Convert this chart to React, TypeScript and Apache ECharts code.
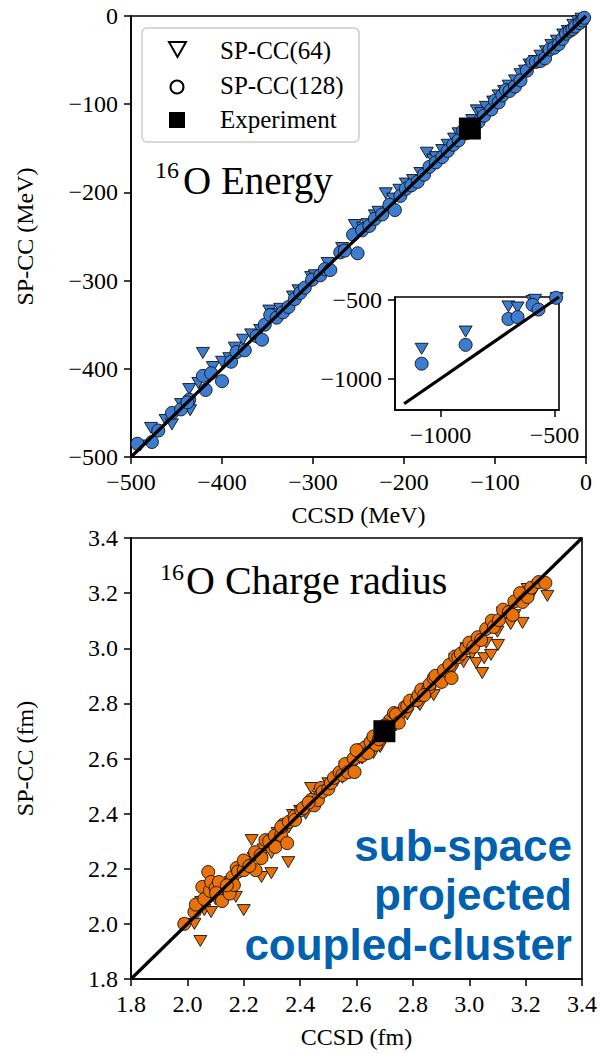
import React, { useEffect, useRef } from "react";
import * as echarts from "echarts";

// ---------- Data: 16O energy (MeV) ----------
const energyTicks = [-500, -400, -300, -200, -100, 0];
const energySP64: number[][] = [
  [-490, -487], [-478, -467], [-462, -458], [-455, -463], [-445, -440], [-436, -423], [-435, -447],
  [-426, -416], [-421, -382], [-410, -398], [-400, -392], [-392, -388], [-386, -376], [-377, -367],
  [-368, -361], [-358, -356], [-348, -334], [-342, -338], [-336, -332], [-322, -318], [-316, -311],
  [-302, -296], [-298, -294], [-284, -280], [-268, -263], [-254, -237], [-245, -240], [-240, -236],
  [-232, -226], [-228, -222], [-220, -201], [-212, -207], [-205, -197], [-198, -190], [-190, -186],
  [-182, -178], [-175, -155], [-168, -163], [-165, -160], [-158, -152], [-152, -146], [-145, -139],
  [-140, -133], [-132, -126], [-125, -118], [-120, -107], [-115, -110], [-110, -103], [-102, -97],
  [-96, -90], [-90, -85], [-85, -79], [-78, -73], [-72, -66], [-67, -62], [-62, -55], [-56, -51],
  [-50, -45], [-44, -40], [-38, -33], [-32, -28], [-25, -21], [-20, -17], [-14, -10], [-9, -6], [-5, -3],
];
const energySP128: number[][] = [
  [-493, -485], [-477, -483], [-470, -470], [-455, -450], [-445, -446], [-436, -435], [-438, -438],
  [-421, -408], [-418, -424], [-412, -405], [-400, -414], [-390, -392], [-384, -381], [-375, -379],
  [-362, -363], [-356, -367], [-353, -350], [-347, -339], [-340, -342], [-333, -336], [-327, -330],
  [-320, -321], [-314, -314], [-309, -308], [-301, -299], [-292, -294], [-287, -287], [-281, -288],
  [-270, -268], [-265, -266], [-251, -269], [-256, -248], [-246, -243], [-238, -238], [-232, -230],
  [-224, -225], [-216, -214], [-210, -220], [-204, -204], [-198, -196], [-192, -192], [-185, -188],
  [-178, -180], [-172, -171], [-165, -166], [-158, -160], [-152, -153], [-146, -146], [-140, -141],
  [-135, -130], [-132, -133], [-128, -125], [-123, -124], [-118, -120], [-112, -113], [-104, -106],
  [-100, -96], [-96, -98], [-92, -90], [-88, -84], [-84, -85], [-78, -80], [-72, -73], [-65, -62],
  [-59, -52], [-55, -52], [-50, -51], [-45, -48], [-40, -38], [-35, -36], [-30, -32], [-26, -26],
  [-22, -20], [-18, -17], [-15, -15], [-12, -12], [-7, -8], [-4, -5], [-2, -2],
];
const energyExperiment: number[][] = [[-127.6, -127.6]];
const energyDiagonal: number[][] = [[-500, -500], [0, 0]];

// inset (large-basis outliers)
const insetTicks = [-1000, -500];
const insetSP64: number[][] = [[-1083, -810], [-890, -700], [-702, -540], [-662, -547], [-596, -505], [-585, -498]];
const insetSP128: number[][] = [[-1083, -905], [-890, -785], [-702, -620], [-662, -608], [-596, -530], [-570, -560]];
const insetDiagonal: number[][] = [[-1160, -1160], [-480, -480]];

// ---------- Data: 16O charge radius (fm) ----------
const radiusTicks = [1.8, 2.0, 2.2, 2.4, 2.6, 2.8, 3.0, 3.2, 3.4];
const radiusSP64: number[][] = [
  [2.025, 2.0], [2.046, 1.938], [1.995, 1.998], [2.049, 2.079], [2.06, 2.05], [2.084, 2.043],
  [2.1, 2.09], [2.14, 2.13], [2.172, 2.098], [2.18, 2.19], [2.2, 2.05], [2.154, 2.152],
  [2.235, 2.239], [2.228, 2.304], [2.263, 2.17], [2.27, 2.27], [2.298, 2.184], [2.298, 2.257],
  [2.3, 2.28], [2.33, 2.31], [2.358, 2.224], [2.36, 2.35], [2.375, 2.395], [2.42, 2.4],
  [2.439, 2.493], [2.46, 2.45], [2.47, 2.46], [2.5, 2.51], [2.53, 2.52], [2.55, 2.53], [2.56, 2.57],
  [2.61, 2.6], [2.62, 2.6], [2.64, 2.63], [2.66, 2.62], [2.68, 2.66], [2.684, 2.642], [2.7, 2.69],
  [2.72, 2.73], [2.74, 2.72], [2.76, 2.75], [2.78, 2.76], [2.82, 2.8], [2.825, 2.794], [2.86, 2.84],
  [2.874, 2.83], [2.9, 2.88], [2.92, 2.91], [2.94, 2.92], [2.95, 2.96], [2.98, 2.95], [3.01, 2.98],
  [3.025, 2.946], [3.046, 2.91], [3.053, 2.964], [3.06, 3.02], [3.077, 2.976], [3.1, 3.06],
  [3.102, 3.012], [3.14, 3.1], [3.147, 3.088], [3.16, 3.12], [3.189, 3.092], [3.2, 3.17],
  [3.207, 3.215], [3.23, 3.21], [3.277, 3.19], [3.12, 3.13], [2.99, 3.0], [2.4, 2.41], [2.12, 2.1],
  [2.32, 2.33], [2.58, 2.56], [2.8, 2.8],
];
const radiusSP128: number[][] = [
  [1.989, 2.0], [2.025, 2.043], [2.03, 2.07], [2.053, 2.134], [2.06, 2.09], [2.074, 2.188],
  [2.08, 2.12], [2.084, 2.152], [2.1, 2.13], [2.112, 2.152], [2.102, 2.112], [2.123, 2.083],
  [2.15, 2.11], [2.16, 2.17], [2.165, 2.141], [2.175, 2.203], [2.18, 2.19], [2.2, 2.195],
  [2.2, 2.23], [2.24, 2.26], [2.242, 2.195], [2.26, 2.25], [2.263, 2.239], [2.277, 2.304],
  [2.29, 2.3], [2.31, 2.32], [2.312, 2.279], [2.333, 2.322], [2.34, 2.36], [2.354, 2.293],
  [2.333, 2.352], [2.36, 2.37], [2.38, 2.39], [2.382, 2.377], [2.404, 2.413], [2.41, 2.42],
  [2.44, 2.45], [2.45, 2.43], [2.463, 2.449], [2.474, 2.493], [2.48, 2.48], [2.5, 2.49],
  [2.509, 2.511], [2.52, 2.53], [2.54, 2.55], [2.55, 2.54], [2.56, 2.58], [2.57, 2.55],
  [2.593, 2.551], [2.59, 2.6], [2.61, 2.63], [2.62, 2.61], [2.63, 2.64], [2.64, 2.62],
  [2.65, 2.66], [2.66, 2.68], [2.67, 2.65], [2.68, 2.67], [2.69, 2.71], [2.71, 2.7],
  [2.72, 2.74], [2.733, 2.765], [2.74, 2.76], [2.75, 2.73], [2.772, 2.787], [2.78, 2.79],
  [2.79, 2.81], [2.814, 2.812], [2.82, 2.83], [2.83, 2.85], [2.856, 2.856], [2.86, 2.87],
  [2.874, 2.892], [2.88, 2.9], [2.902, 2.878], [2.91, 2.92], [2.93, 2.94], [2.937, 2.892],
  [2.95, 2.97], [2.961, 2.968], [2.97, 2.98], [2.989, 3.001], [3.0, 3.02], [3.014, 3.005],
  [3.03, 3.04], [3.042, 3.03], [3.06, 3.07], [3.08, 3.1], [3.087, 3.077], [3.105, 3.102],
  [3.12, 3.14], [3.14, 3.131], [3.154, 3.121], [3.16, 3.17], [3.18, 3.2], [3.189, 3.168],
  [3.207, 3.186], [3.22, 3.22], [3.246, 3.24], [3.27, 3.237], [2.14, 2.14], [2.22, 2.21],
  [2.43, 2.44], [2.7, 2.72], [2.84, 2.83], [2.6, 2.63],
];
const radiusExperiment: number[][] = [[2.699, 2.699]];
const radiusDiagonal: number[][] = [[1.8, 1.8], [3.4, 3.4]];

const legendLabels = ["SP-CC(64)", "SP-CC(128)", "Experiment"];
const bannerLines = ["sub-space", "projected", "coupled-cluster"];

const SERIF = '"Liberation Serif", "Times New Roman", serif';
const BLUE = "#3c7dd2";
const ORANGE = "#e8710a";

const minusFmt = (v: number) => (v < 0 ? "\u2212" + Math.abs(v) : String(v));

function axisCommon(fmt: (v: number) => string) {
  return {
    axisLine: { show: true, onZero: false, lineStyle: { color: "#000", width: 1.6 } },
    axisTick: { show: true, inside: false, length: 7, lineStyle: { color: "#000", width: 1.5 } },
    axisLabel: { color: "#000", fontFamily: SERIF, fontSize: 24, margin: 13, formatter: fmt },
    splitLine: { show: false },
    nameTextStyle: { color: "#000", fontFamily: SERIF, fontSize: 24 },
  };
}

export default function App() {
  const ref = useRef<HTMLDivElement>(null);
  useEffect(() => {
    if (!ref.current) return;
    const chart = echarts.init(ref.current, null, { renderer: "svg" });
    const mk = (c: string) => ({ color: c, borderColor: "#111", borderWidth: 0.9, opacity: 1 });
    const fmt1 = (v: number) => v.toFixed(1);
    const insetAxisExtras = {
      axisTick: { show: true, inside: false, length: 7, customValues: insetTicks, lineStyle: { color: "#000", width: 1.5 } },
      axisLabel: { color: "#000", fontFamily: SERIF, fontSize: 24, margin: 13, customValues: insetTicks, formatter: minusFmt },
    };
    chart.setOption({
      animation: false,
      backgroundColor: "#fff",
      grid: [
        { left: 131, top: 16, width: 455, height: 441, show: true, borderColor: "#000", borderWidth: 1.6, backgroundColor: "transparent" },
        { left: 395, top: 297, width: 164, height: 113, show: true, borderColor: "#000", borderWidth: 1.6, backgroundColor: "#fff" },
        { left: 131, top: 538, width: 456, height: 441, show: true, borderColor: "#000", borderWidth: 1.6, backgroundColor: "transparent" },
      ],
      xAxis: [
        {
          gridIndex: 0, type: "value", min: energyTicks[0], max: energyTicks[energyTicks.length - 1], interval: 100,
          name: "CCSD (MeV)", nameLocation: "middle", nameGap: 46, ...axisCommon(minusFmt),
        },
        { gridIndex: 1, type: "value", min: -1200, max: -480, ...axisCommon(minusFmt), ...insetAxisExtras },
        {
          gridIndex: 2, type: "value", min: radiusTicks[0], max: radiusTicks[radiusTicks.length - 1], interval: 0.2,
          name: "CCSD (fm)", nameLocation: "middle", nameGap: 46, ...axisCommon(fmt1),
        },
      ],
      yAxis: [
        {
          gridIndex: 0, type: "value", min: energyTicks[0], max: energyTicks[energyTicks.length - 1], interval: 100,
          name: "SP-CC (MeV)", nameLocation: "middle", nameGap: 94, nameRotate: 90, ...axisCommon(minusFmt),
        },
        { gridIndex: 1, type: "value", min: -1200, max: -480, ...axisCommon(minusFmt), ...insetAxisExtras },
        {
          gridIndex: 2, type: "value", min: radiusTicks[0], max: radiusTicks[radiusTicks.length - 1], interval: 0.2,
          name: "SP-CC (fm)", nameLocation: "middle", nameGap: 94, nameRotate: 90, ...axisCommon(fmt1),
        },
      ],
      series: [
        // energy main
        { type: "scatter", xAxisIndex: 0, yAxisIndex: 0, data: energySP64, symbol: "triangle", symbolRotate: 180, symbolSize: [13, 11], itemStyle: mk(BLUE), z: 2 },
        { type: "scatter", xAxisIndex: 0, yAxisIndex: 0, data: energySP128, symbol: "circle", symbolSize: 13, itemStyle: mk(BLUE), z: 2 },
        { type: "line", xAxisIndex: 0, yAxisIndex: 0, data: energyDiagonal, symbol: "none", lineStyle: { color: "#000", width: 3.2 }, z: 3 },
        { type: "scatter", xAxisIndex: 0, yAxisIndex: 0, data: energyExperiment, symbol: "rect", symbolSize: 22, itemStyle: { color: "#000", opacity: 1 }, z: 4 },
        // inset
        { type: "scatter", xAxisIndex: 1, yAxisIndex: 1, data: insetSP64.concat(energySP64), symbol: "triangle", symbolRotate: 180, symbolSize: [13, 11], itemStyle: mk(BLUE), z: 5 },
        { type: "scatter", xAxisIndex: 1, yAxisIndex: 1, data: insetSP128.concat(energySP128), symbol: "circle", symbolSize: 13, itemStyle: mk(BLUE), z: 5 },
        { type: "line", xAxisIndex: 1, yAxisIndex: 1, data: insetDiagonal, symbol: "none", lineStyle: { color: "#000", width: 3.2 }, z: 6 },
        // radius
        { type: "scatter", xAxisIndex: 2, yAxisIndex: 2, data: radiusSP64, symbol: "triangle", symbolRotate: 180, symbolSize: [13, 11], itemStyle: mk(ORANGE), z: 2 },
        { type: "scatter", xAxisIndex: 2, yAxisIndex: 2, data: radiusSP128, symbol: "circle", symbolSize: 13, itemStyle: mk(ORANGE), z: 2 },
        { type: "line", xAxisIndex: 2, yAxisIndex: 2, data: radiusDiagonal, symbol: "none", lineStyle: { color: "#000", width: 3.2 }, z: 3 },
        { type: "scatter", xAxisIndex: 2, yAxisIndex: 2, data: radiusExperiment, symbol: "rect", symbolSize: 22, itemStyle: { color: "#000", opacity: 1 }, z: 4 },
      ],
      graphic: [
        // legend box
        { type: "rect", shape: { x: 142, y: 28, width: 217, height: 114, r: 5 }, style: { fill: "#fff", stroke: "#cccccc", lineWidth: 1.5 }, z: 10 },
        { type: "polygon", shape: { points: [[169, 42], [186, 42], [177.5, 57]] }, style: { fill: "#fff", stroke: "#000", lineWidth: 2 }, z: 11 },
        { type: "circle", shape: { cx: 177, cy: 87, r: 6.5 }, style: { fill: "#fff", stroke: "#000", lineWidth: 2 }, z: 11 },
        { type: "rect", shape: { x: 169, y: 112, width: 16, height: 16 }, style: { fill: "#000" }, z: 11 },
        { type: "text", x: 220, y: 50, style: { text: legendLabels[0], fill: "#000", font: `25px ${SERIF}`, verticalAlign: "middle" }, z: 11 },
        { type: "text", x: 220, y: 85, style: { text: legendLabels[1], fill: "#000", font: `25px ${SERIF}`, verticalAlign: "middle" }, z: 11 },
        { type: "text", x: 220, y: 119, style: { text: legendLabels[2], fill: "#000", font: `25px ${SERIF}`, verticalAlign: "middle" }, z: 11 },
        // panel titles
        { type: "text", x: 155, y: 170, style: { text: "16", fill: "#000", font: `24px ${SERIF}`, verticalAlign: "middle" }, z: 11 },
        { type: "text", x: 183, y: 180, style: { text: "O Energy", fill: "#000", font: `39px ${SERIF}`, verticalAlign: "middle" }, z: 11 },
        { type: "text", x: 160, y: 572, style: { text: "16", fill: "#000", font: `24px ${SERIF}`, verticalAlign: "middle" }, z: 11 },
        { type: "text", x: 186, y: 580, style: { text: "O Charge radius", fill: "#000", font: `40px ${SERIF}`, verticalAlign: "middle" }, z: 11 },
        // banner
        { type: "text", x: 572, y: 845, style: { text: bannerLines[0], fill: "#0061af", font: `bold 44px "Liberation Sans", Arial, sans-serif`, align: "right", verticalAlign: "middle" }, z: 11 },
        { type: "text", x: 572, y: 894, style: { text: bannerLines[1], fill: "#0061af", font: `bold 44px "Liberation Sans", Arial, sans-serif`, align: "right", verticalAlign: "middle" }, z: 11 },
        { type: "text", x: 572, y: 944, style: { text: bannerLines[2], fill: "#0061af", font: `bold 44px "Liberation Sans", Arial, sans-serif`, align: "right", verticalAlign: "middle" }, z: 11 },
      ],
    });
    return () => chart.dispose();
  }, []);
  return (
    <div
      ref={ref}
      style={{ position: "absolute", left: 0, top: 0, width: 600, height: 1053, background: "#fff" }}
    />
  );
}
